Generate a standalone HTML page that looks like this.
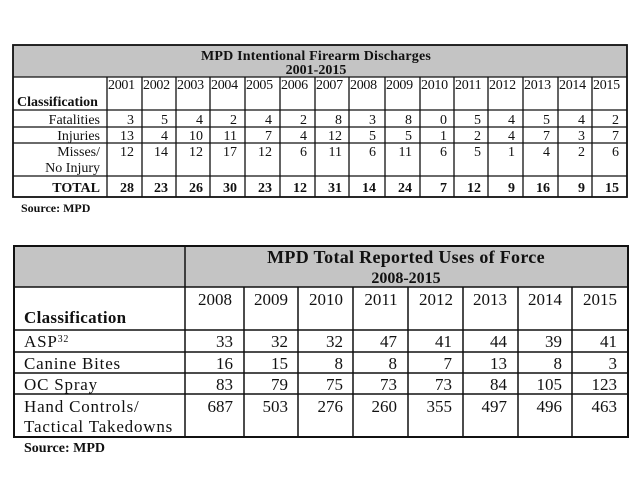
<!DOCTYPE html>
<html><head><meta charset="utf-8"><style>
html,body{margin:0;padding:0;background:#fff;width:640px;height:500px;overflow:hidden}
svg{display:block}
text{font-family:"Liberation Serif",serif;fill:#111}
</style></head><body>
<svg width="640" height="500" xmlns="http://www.w3.org/2000/svg">
<!-- Table 1 -->
<rect x="13" y="45" width="614" height="32" fill="#c4c4c4"/>
<g stroke="#111" stroke-width="1.3" fill="none">
<rect x="13" y="45" width="614" height="152" stroke-width="1.8"/>
<line x1="13" y1="77" x2="627" y2="77"/>
<line x1="13" y1="110" x2="627" y2="110"/>
<line x1="13" y1="127" x2="627" y2="127"/>
<line x1="13" y1="143" x2="627" y2="143"/>
<line x1="13" y1="176" x2="627" y2="176"/>
</g>
<g stroke="#111" stroke-width="1.3">
<line x1="107" y1="77" x2="107" y2="197"/><line x1="142" y1="77" x2="142" y2="197"/>
<line x1="176" y1="77" x2="176" y2="197"/><line x1="210" y1="77" x2="210" y2="197"/>
<line x1="245" y1="77" x2="245" y2="197"/><line x1="280" y1="77" x2="280" y2="197"/>
<line x1="315" y1="77" x2="315" y2="197"/><line x1="349" y1="77" x2="349" y2="197"/>
<line x1="385" y1="77" x2="385" y2="197"/><line x1="420" y1="77" x2="420" y2="197"/>
<line x1="454" y1="77" x2="454" y2="197"/><line x1="488" y1="77" x2="488" y2="197"/>
<line x1="523" y1="77" x2="523" y2="197"/><line x1="558" y1="77" x2="558" y2="197"/>
<line x1="592" y1="77" x2="592" y2="197"/>
</g>
<text x="316" y="60" font-size="14" font-weight="bold" text-anchor="middle" letter-spacing="0.2">MPD Intentional Firearm Discharges</text>
<text x="316" y="74" font-size="14" font-weight="bold" text-anchor="middle">2001-2015</text>
<text x="17" y="106" font-size="14" font-weight="bold">Classification</text>
<g font-size="14" letter-spacing="-0.3">
<text x="108" y="89">2001</text><text x="143" y="89">2002</text><text x="177" y="89">2003</text><text x="211" y="89">2004</text><text x="246" y="89">2005</text><text x="281" y="89">2006</text><text x="316" y="89">2007</text><text x="350" y="89">2008</text><text x="386" y="89">2009</text><text x="421" y="89">2010</text><text x="455" y="89">2011</text><text x="489" y="89">2012</text><text x="524" y="89">2013</text><text x="559" y="89">2014</text><text x="593" y="89">2015</text>
</g>
<g font-size="14" text-anchor="end">
<text x="100" y="124">Fatalities</text><text x="100" y="140">Injuries</text><text x="100" y="156">Misses/</text><text x="100" y="172">No Injury</text>
<text x="100" y="192" font-weight="bold">TOTAL</text>
</g>
<g font-size="14" text-anchor="end">
<g transform="translate(0,124)"><text x="134">3</text><text x="168">5</text><text x="203">4</text><text x="237">2</text><text x="272">4</text><text x="307">2</text><text x="342">8</text><text x="376">3</text><text x="412">8</text><text x="447">0</text><text x="481">5</text><text x="515">4</text><text x="550">5</text><text x="585">4</text><text x="619">2</text></g>
<g transform="translate(0,140)"><text x="134">13</text><text x="168">4</text><text x="203">10</text><text x="237">11</text><text x="272">7</text><text x="307">4</text><text x="342">12</text><text x="376">5</text><text x="412">5</text><text x="447">1</text><text x="481">2</text><text x="515">4</text><text x="550">7</text><text x="585">3</text><text x="619">7</text></g>
<g transform="translate(0,156)"><text x="134">12</text><text x="168">14</text><text x="203">12</text><text x="237">17</text><text x="272">12</text><text x="307">6</text><text x="342">11</text><text x="376">6</text><text x="412">11</text><text x="447">6</text><text x="481">5</text><text x="515">1</text><text x="550">4</text><text x="585">2</text><text x="619">6</text></g>
<g transform="translate(0,192)" font-weight="bold"><text x="134">28</text><text x="168">23</text><text x="203">26</text><text x="237">30</text><text x="272">23</text><text x="307">12</text><text x="342">31</text><text x="376">14</text><text x="412">24</text><text x="447">7</text><text x="481">12</text><text x="515">9</text><text x="550">16</text><text x="585">9</text><text x="619">15</text></g>
</g>
<text x="21" y="212" font-size="12" font-weight="bold">Source: MPD</text>

<!-- Table 2 -->
<rect x="14" y="246" width="614" height="41" fill="#c4c4c4"/>
<g stroke="#111" stroke-width="1.5" fill="none">
<rect x="14" y="246" width="614" height="191" stroke-width="2"/>
<line x1="14" y1="287" x2="628" y2="287"/>
<line x1="14" y1="330" x2="628" y2="330"/>
<line x1="14" y1="352" x2="628" y2="352"/>
<line x1="14" y1="373" x2="628" y2="373"/>
<line x1="14" y1="394" x2="628" y2="394"/>
<line x1="185" y1="246" x2="185" y2="437"/>
<line x1="244" y1="287" x2="244" y2="437"/><line x1="298" y1="287" x2="298" y2="437"/>
<line x1="353" y1="287" x2="353" y2="437"/><line x1="408" y1="287" x2="408" y2="437"/>
<line x1="463" y1="287" x2="463" y2="437"/><line x1="518" y1="287" x2="518" y2="437"/>
<line x1="572" y1="287" x2="572" y2="437"/>
</g>
<text x="406" y="263" font-size="18" font-weight="bold" text-anchor="middle" letter-spacing="0.3">MPD Total Reported Uses of Force</text>
<text x="406" y="283" font-size="16" font-weight="bold" text-anchor="middle">2008-2015</text>
<text x="24" y="323" font-size="17" font-weight="bold" letter-spacing="0.3">Classification</text>
<g font-size="17" text-anchor="middle" transform="translate(0,305)">
<text x="215">2008</text><text x="271">2009</text><text x="326">2010</text><text x="381">2011</text><text x="436">2012</text><text x="490">2013</text><text x="545">2014</text><text x="600">2015</text>
</g>
<g font-size="17" letter-spacing="0.8">
<text x="24" y="347">ASP<tspan font-size="10" dy="-5">32</tspan></text>
<text x="24" y="369">Canine Bites</text>
<text x="24" y="390">OC Spray</text>
<text x="24" y="412">Hand Controls/</text>
<text x="24" y="432">Tactical Takedowns</text>
</g>
<g font-size="17" text-anchor="end">
<g transform="translate(0,347)"><text x="233">33</text><text x="288">32</text><text x="343">32</text><text x="397">47</text><text x="452">41</text><text x="507">44</text><text x="562">39</text><text x="617">41</text></g>
<g transform="translate(0,369)"><text x="233">16</text><text x="288">15</text><text x="343">8</text><text x="397">8</text><text x="452">7</text><text x="507">13</text><text x="562">8</text><text x="617">3</text></g>
<g transform="translate(0,390)"><text x="233">83</text><text x="288">79</text><text x="343">75</text><text x="397">73</text><text x="452">73</text><text x="507">84</text><text x="562">105</text><text x="617">123</text></g>
<g transform="translate(0,412)"><text x="233">687</text><text x="288">503</text><text x="343">276</text><text x="397">260</text><text x="452">355</text><text x="507">497</text><text x="562">496</text><text x="617">463</text></g>
</g>
<text x="24" y="452" font-size="14" font-weight="bold">Source: MPD</text>
</svg>
</body></html>
